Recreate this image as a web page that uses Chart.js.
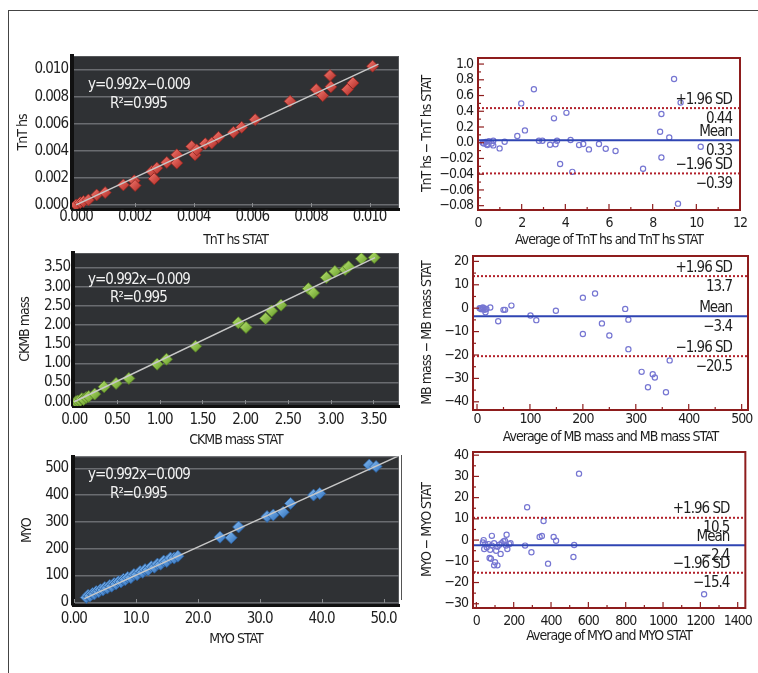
<!DOCTYPE html>
<html>
<head>
<meta charset="utf-8">
<script src="https://cdn.jsdelivr.net/npm/chart.js@4.4.1/dist/chart.umd.min.js"></script>
<style>
  body { margin: 0; background: #fff; width: 758px; height: 673px; position: relative; overflow: hidden; }
  canvas { position: absolute; }
  .rule { position: absolute; background: #444; }
</style>
</head>
<body>
<div class="rule" style="left:8px;top:10px;width:750px;height:1px"></div>
<div class="rule" style="left:8px;top:10px;width:1px;height:663px"></div>
<div class="rule" style="left:401px;top:455px;width:1px;height:145px;background:#555"></div>
<canvas id="tnt"></canvas>
<canvas id="tntBA"></canvas>
<canvas id="ckmb"></canvas>
<canvas id="mbBA"></canvas>
<canvas id="myo"></canvas>
<canvas id="myoBA"></canvas>
<script>
const FONT = "'Liberation Sans Narrow', 'DejaVu Sans Condensed', 'Arial Narrow', sans-serif";
const TIGHT = '-1px';

// --- TnT hs vs TnT hs STAT ---
const tntStat = [0, 0.00014, 0.00025, 0.00042, 0.0007, 0.00099, 0.00161, 0.00198, 0.00201, 0.00258, 0.00266, 0.00275, 0.00309, 0.00343, 0.00343, 0.00394, 0.00405, 0.00411, 0.0044, 0.00462, 0.00485, 0.00536, 0.00564, 0.0061, 0.00729, 0.00818, 0.0084, 0.00865, 0.00868, 0.00924, 0.00943, 0.0101];
const tntHs   = [0, 0.00017, 0.00025, 0.00037, 0.00074, 0.00091, 0.00148, 0.00178, 0.00143, 0.00247, 0.00193, 0.00272, 0.00314, 0.0037, 0.00309, 0.00432, 0.0037, 0.00407, 0.00452, 0.00457, 0.00499, 0.00536, 0.00573, 0.0063, 0.00765, 0.00852, 0.00807, 0.00956, 0.00872, 0.00852, 0.00901, 0.01025];
const tntFitX = [0, 0.0103];
const tntFitY = [0, 0.0104];
const tntTicks = [0, 0.002, 0.004, 0.006, 0.008, 0.010];
const tntTickLabels = ['0.000', '0.002', '0.004', '0.006', '0.008', '0.010'];

// --- CKMB mass vs CKMB mass STAT ---
const ckmbStat = [0.02, 0.04, 0.07, 0.09, 0.11, 0.14, 0.17, 0.24, 0.35, 0.49, 0.64, 0.97, 1.08, 1.42, 1.92, 2.01, 2.24, 2.31, 2.42, 2.74, 2.80, 2.95, 3.05, 3.17, 3.21, 3.36, 3.51];
const ckmbMass = [0.0, 0.02, 0.03, 0.08, 0.06, 0.11, 0.14, 0.20, 0.39, 0.48, 0.61, 0.98, 1.11, 1.45, 2.06, 1.94, 2.17, 2.37, 2.52, 2.95, 2.84, 3.24, 3.40, 3.45, 3.52, 3.73, 3.76];
const ckmbFitX = [0, 3.52];
const ckmbFitY = [0, 3.76];
const ckmbXTicks = [0, 0.5, 1, 1.5, 2, 2.5, 3, 3.5];
const ckmbYTicks = [0, 0.5, 1, 1.5, 2, 2.5, 3, 3.5];
const ckmbTickLabels = ['0.00', '0.50', '1.00', '1.50', '2.00', '2.50', '3.00', '3.50'];

// --- MYO vs MYO STAT ---
const myoStat = [2.0, 2.3, 2.6, 3.0, 3.3, 3.6, 4.0, 4.3, 4.7, 5.0, 5.4, 5.8, 6.1, 6.5, 6.8, 7.2, 7.6, 8.0, 8.3, 8.7, 9.2, 9.7, 10.2, 10.7, 11.1, 11.5, 12.0, 12.5, 13.0, 13.5, 14.0, 14.5, 15.0, 15.6, 16.2, 16.8, 23.6, 25.4, 26.6, 31.2, 32.2, 33.8, 35.0, 38.7, 39.7, 47.7, 48.8];
const myoVal  = [18, 26, 24, 33, 31, 40, 39, 47, 46, 55, 53, 63, 60, 70, 68, 77, 76, 86, 84, 93, 92, 104, 103, 115, 112, 122, 121, 133, 131, 143, 142, 154, 152, 165, 165, 172, 243, 241, 281, 320, 326, 336, 369, 400, 406, 512, 507];
const myoFitX = [1.7, 53];
const myoFitY = [14, 552];
const myoXTicks = [0, 10, 20, 30, 40, 50];
const myoXTickLabels = ['0.00', '10.0', '20.0', '30.0', '40.0', '50.0'];
const myoYTicks = [0, 100, 200, 300, 400, 500];
const myoYTickLabels = ['0', '100', '200', '300', '400', '500'];

// --- Bland-Altman: TnT ---
const tntAvg  = [0.22, 0.27, 0.35, 0.4, 0.43, 0.5, 0.63, 0.7, 0.7, 0.99, 1.22, 1.8, 1.98, 2.15, 2.56, 2.79, 2.95, 3.3, 3.48, 3.55, 3.62, 3.76, 4.05, 4.24, 4.32, 4.63, 4.82, 5.08, 5.54, 5.85, 6.3, 7.56, 8.34, 8.4, 8.4, 8.76, 8.98, 9.16, 9.28, 10.2];
const tntDiff = [0.0, -0.0009, 0.001, -0.002, -0.003, 0.002, -0.001, 0.0026, -0.0034, -0.0072, 0.0013, 0.0085, 0.05, 0.0157, 0.068, 0.0026, 0.0026, -0.0026, 0.031, -0.002, 0.0026, -0.027, 0.038, 0.0034, -0.037, -0.003, -0.0017, -0.0085, -0.0017, -0.0077, -0.0106, -0.033, 0.014, 0.0366, -0.0187, 0.0068, 0.081, -0.0774, 0.051, -0.0051];
const tntLimits = [0.044, 0.0033, -0.039];
const tntLimitText = ['0.44', '0.33', '\u22120.39'];
const tntAvgTicks = [0, 2, 4, 6, 8, 10, 12];
const tntDiffTicks = [-0.08, -0.06, -0.04, -0.02, 0, 0.02, 0.04, 0.06, 0.08, 0.10];
const tntDiffTickLabels = ['\u22120.08', '\u22120.06', '\u22120.04', '\u22120.02', '0.0', '0.2', '0.4', '0.6', '0.8', '1.0'];

// --- Bland-Altman: MB mass ---
const mbAvg  = [5, 7, 8, 10, 11, 12.6, 14.5, 16, 17.7, 25, 40, 50, 53, 65, 101, 112, 149, 200, 200, 223, 236, 250, 280, 286, 286, 311, 323, 332, 336, 357, 364];
const mbDiff = [0, 0, -0.4, -0.4, 0.3, 0, -0.7, -1.7, -0.3, 0.3, -5.6, -0.7, -0.7, 1.1, -3.1, -5.1, -1.1, 4.5, -11, 6.3, -6.5, -11.7, -0.3, -4.9, -17.5, -27.2, -33.8, -28.2, -29.6, -35.9, -22.3];
const mbLimits = [13.7, -3.4, -20.5];
const mbLimitText = ['13.7', '\u22123.4', '\u221220.5'];
const mbAvgTicks = [0, 100, 200, 300, 400, 500];
const mbDiffTicks = [-40, -30, -20, -10, 0, 10, 20];

// --- Bland-Altman: MYO ---
const myoAvg  = [550, 272, 360, 339, 351, 414, 427, 162, 83, 39, 35, 48, 42, 56, 65, 74, 83, 95, 106, 113, 123, 136, 145, 153, 159, 166, 176, 183, 130, 71, 78, 100, 95, 113, 261, 295, 384, 524, 520, 1220];
const myoDiff = [31.3, 15.5, 9.0, 1.5, 1.9, 1.5, -0.3, 2.5, 2.0, 0, -1.1, -1.9, -4.2, -3.4, -1.9, -4.6, -2.6, -1.5, -5.0, -3.1, -2.2, -1.5, -0.6, -0.3, -2.6, -4.2, -1.9, -1.5, -6.5, -8.4, -8.8, -10.4, -11.9, -11.9, -2.6, -5.7, -11.1, -2.3, -8.0, -25.5];
const myoLimits = [10.5, -2.4, -15.4];
const myoLimitText = ['10.5', '\u22122.4', '\u221215.4'];
const myoAvgTicks = [0, 200, 400, 600, 800, 1000, 1200, 1400];
const myoDiffTicks = [-30, -20, -10, 0, 10, 20, 30, 40];

const limitNames = ['+1.96 SD', 'Mean', '\u22121.96 SD'];

// the original figure uses a condensed face; squeeze the letters a bit
Chart.register({
  id: 'tightText',
  beforeLayout(chart) { chart.ctx.letterSpacing = TIGHT; },
  beforeDraw(chart) { chart.ctx.letterSpacing = TIGHT; }
});

function pts(xs, ys) {
  return xs.map((x, i) => ({ x: x, y: ys[i] }));
}
function minus(v) {
  return String(v).replace('-', '\u2212');
}
function place(id, box) {
  const cv = document.getElementById(id);
  cv.width = box.r - box.l;
  cv.height = box.b - box.t;
  cv.style.left = box.l + 'px';
  cv.style.top = box.t + 'px';
  return cv;
}
function font(size) {
  return { family: FONT, size: size, lineHeight: 1 };
}

// shaded diamond: light top-left, dark bottom-right
function shade(light, dark) {
  return c => {
    const ch = c.chart;
    if (!c.parsed || !ch.chartArea) return dark;
    const px = ch.scales.x.getPixelForValue(c.parsed.x);
    const py = ch.scales.y.getPixelForValue(c.parsed.y);
    const g = ch.ctx.createLinearGradient(px - 5, py - 5, px + 5, py + 5);
    g.addColorStop(0, light);
    g.addColorStop(1, dark);
    return g;
  };
}

// dark plot background, little tick marks, equation text
function darkPlot(eq) {
  return {
    id: 'darkPlot',
    beforeDraw(chart) {
      const a = chart.chartArea, ctx = chart.ctx;
      ctx.save();
      ctx.fillStyle = '#2f3134';
      ctx.fillRect(a.left, a.top, a.right - a.left, a.bottom - a.top);
      ctx.strokeStyle = '#55575a';
      ctx.lineWidth = 1;
      ctx.strokeRect(a.left + 0.5, a.top + 0.5, a.right - a.left - 1, a.bottom - a.top - 1);
      ctx.restore();
    },
    beforeDatasetsDraw(chart) {
      const a = chart.chartArea, ctx = chart.ctx, xs = chart.scales.x;
      ctx.save();
      ctx.strokeStyle = '#8a8c8f';
      ctx.lineWidth = 1;
      xs.ticks.forEach(t => {
        const px = Math.round(xs.getPixelForValue(t.value)) + 0.5;
        ctx.beginPath();
        ctx.moveTo(px, a.bottom - 2);
        ctx.lineTo(px, a.bottom - 6);
        ctx.stroke();
      });
      ctx.restore();
    },
    afterDraw(chart) {
      const a = chart.chartArea, ctx = chart.ctx;
      ctx.save();
      ctx.fillStyle = '#f2f2f2';
      ctx.font = '15px ' + FONT;
      ctx.textBaseline = 'middle';
      ctx.fillText('y=0.992x\u22120.009', a.left + eq.dx, a.top + eq.dy);
      ctx.fillText('R\u00b2=0.995', a.left + eq.dx2, a.top + eq.dy2);
      ctx.restore();
    }
  };
}

function scatterPanel(id, box, area, d) {
  const cv = place(id, box);
  return new Chart(cv, {
    type: 'scatter',
    data: {
      datasets: [
        { type: 'line', data: pts(d.fitX, d.fitY), borderColor: '#c8c8c8', borderWidth: 1.5, pointRadius: 0, fill: false },
        { data: pts(d.x, d.y), pointStyle: 'rectRot', pointRadius: 6, backgroundColor: shade(d.light, d.dark), borderColor: d.edge, borderWidth: 0.8 }
      ]
    },
    options: {
      responsive: false,
      animation: false,
      events: [],
      layout: { padding: { left: 0, top: area.t - box.t, right: box.r - area.r, bottom: 0 } },
      plugins: { legend: { display: false }, tooltip: { enabled: false } },
      scales: {
        x: {
          type: 'linear', bounds: 'data', min: d.xMin, max: d.xMax,
          afterBuildTicks: s => { s.ticks = d.xTicks.map(v => ({ value: v })); },
          afterFit: s => { s.height = box.b - area.b; },
          ticks: { callback: (v, i) => d.xLabels[i], padding: d.xPad, font: font(15), color: '#1e1e1e', maxRotation: 0, autoSkip: false },
          grid: { display: false, drawTicks: false },
          border: { color: '#111', width: 3 },
          title: { display: true, text: d.xTitle, font: font(14), color: '#1e1e1e', padding: 0 }
        },
        y: {
          type: 'linear', bounds: 'data', min: d.yMin, max: d.yMax,
          afterBuildTicks: s => { s.ticks = d.yTicks.map(v => ({ value: v })); },
          afterFit: s => { s.width = area.l - box.l; },
          ticks: { callback: (v, i) => d.yLabels[i], padding: d.yPad, font: font(15), color: '#1e1e1e', autoSkip: false },
          grid: { color: '#6a6c70', lineWidth: 1.5, drawTicks: false },
          border: { color: '#111', width: 4 },
          title: { display: true, text: d.yTitle, font: font(14), color: '#1e1e1e', padding: 0 }
        }
      }
    },
    plugins: [darkPlot(d.eq)]
  });
}

// red frame, inward ticks, limit captions
function baDeco(d) {
  return {
    id: 'baDeco',
    afterDatasetsDraw(chart) {
      const a = chart.chartArea, ctx = chart.ctx, xs = chart.scales.x, ys = chart.scales.y;
      ctx.save();
      ctx.strokeStyle = '#8e1d1d';
      ctx.lineWidth = 1.2;
      const yt = d.yTicks, xt = d.xTicks;
      yt.forEach((v, i) => {
        const py = ys.getPixelForValue(v);
        ctx.beginPath(); ctx.moveTo(a.left, py); ctx.lineTo(a.left + 6, py); ctx.stroke();
        if (i < yt.length - 1) {
          const pm = ys.getPixelForValue((v + yt[i + 1]) / 2);
          ctx.beginPath(); ctx.moveTo(a.left, pm); ctx.lineTo(a.left + 3, pm); ctx.stroke();
        }
      });
      xt.forEach((v, i) => {
        const px = xs.getPixelForValue(v);
        ctx.beginPath(); ctx.moveTo(px, a.bottom); ctx.lineTo(px, a.bottom - 6); ctx.stroke();
        if (i < xt.length - 1) {
          const pm = xs.getPixelForValue((v + xt[i + 1]) / 2);
          ctx.beginPath(); ctx.moveTo(pm, a.bottom); ctx.lineTo(pm, a.bottom - 3); ctx.stroke();
        }
      });
      ctx.lineWidth = 2;
      ctx.strokeRect(a.left, a.top, a.right - a.left, a.bottom - a.top);

      ctx.fillStyle = '#1e1e1e';
      ctx.font = '15px ' + FONT;
      ctx.textAlign = 'right';
      const rx = a.right - d.labelInset;
      d.limits.forEach((v, i) => {
        const py = ys.getPixelForValue(v);
        ctx.textBaseline = 'bottom';
        ctx.fillText(limitNames[i], rx, py - 1);
        ctx.textBaseline = 'top';
        ctx.fillText(d.limitText[i], rx, py + 3);
      });
      ctx.restore();
    }
  };
}

function baPanel(id, box, area, d) {
  const cv = place(id, box);
  const xMin = d.xMin, xMax = d.xMax;
  const lineX = [xMin, xMax];
  return new Chart(cv, {
    type: 'scatter',
    data: {
      datasets: [
        { type: 'line', data: pts(lineX, [d.limits[0], d.limits[0]]), borderColor: '#b2202a', borderWidth: 2, borderDash: [2, 2], pointRadius: 0 },
        { type: 'line', data: pts(lineX, [d.limits[1], d.limits[1]]), borderColor: '#2f45b3', borderWidth: 2, pointRadius: 0 },
        { type: 'line', data: pts(lineX, [d.limits[2], d.limits[2]]), borderColor: '#b2202a', borderWidth: 2, borderDash: [2, 2], pointRadius: 0 },
        { data: pts(d.x, d.y), pointStyle: 'circle', pointRadius: 2.6, backgroundColor: 'rgba(0,0,0,0)', borderColor: '#7676d2', borderWidth: 1.2 }
      ]
    },
    options: {
      responsive: false,
      animation: false,
      events: [],
      layout: { padding: { left: 0, top: area.t - box.t, right: box.r - area.r, bottom: 0 } },
      plugins: { legend: { display: false }, tooltip: { enabled: false } },
      scales: {
        x: {
          type: 'linear', bounds: 'data', min: xMin, max: xMax,
          afterBuildTicks: s => { s.ticks = d.xTicks.map(v => ({ value: v })); },
          afterFit: s => { s.height = box.b - area.b; },
          ticks: { callback: (v, i) => minus(d.xTicks[i]), padding: d.xPad, font: font(14), color: '#1e1e1e', maxRotation: 0, autoSkip: false },
          grid: { display: false, drawTicks: false },
          border: { display: false },
          title: { display: true, text: d.xTitle, font: font(14), color: '#1e1e1e', padding: 0 }
        },
        y: {
          type: 'linear', bounds: 'data', min: d.yMin, max: d.yMax,
          afterBuildTicks: s => { s.ticks = d.yTicks.map(v => ({ value: v })); },
          afterFit: s => { s.width = area.l - box.l; },
          ticks: { callback: (v, i) => (d.yLabels ? d.yLabels[i] : minus(d.yTicks[i])), padding: 5, font: font(14), color: '#1e1e1e', autoSkip: false },
          grid: { display: false, drawTicks: false },
          border: { display: false },
          title: { display: true, text: d.yTitle, font: font(14), color: '#1e1e1e', padding: 0 }
        }
      }
    },
    plugins: [baDeco(d)]
  });
}

// left column
scatterPanel('tnt', { l: 16, t: 40, r: 409, b: 247 }, { l: 72, t: 56, r: 399, b: 209 }, {
  x: tntStat, y: tntHs, fitX: tntFitX, fitY: tntFitY,
  xMin: -0.00014, xMax: 0.0110, yMin: -0.0003, yMax: 0.0110,
  xTicks: tntTicks, xLabels: tntTickLabels, yTicks: tntTicks, yLabels: tntTickLabels,
  xPad: 1, yPad: 4, xTitle: 'TnT hs STAT', yTitle: 'TnT hs',
  light: '#f0736a', dark: '#b3302a', edge: '#8e231e', eq: { dx: 16, dy: 29, dx2: 38, dy2: 48 }
});
scatterPanel('ckmb', { l: 18, t: 240, r: 409, b: 447 }, { l: 73, t: 253, r: 399, b: 406 }, {
  x: ckmbStat, y: ckmbMass, fitX: ckmbFitX, fitY: ckmbFitY,
  xMin: -0.014, xMax: 3.80, yMin: -0.11, yMax: 3.88,
  xTicks: ckmbXTicks, xLabels: ckmbTickLabels, yTicks: ckmbYTicks, yLabels: ckmbTickLabels,
  xPad: 7, yPad: 3, xTitle: 'CKMB mass STAT', yTitle: 'CKMB mass',
  light: '#b4e06e', dark: '#6a9f2c', edge: '#557f23', eq: { dx: 15, dy: 27, dx2: 37, dy2: 45 }
});
scatterPanel('myo', { l: 20, t: 444, r: 409, b: 646 }, { l: 73, t: 454, r: 399, b: 605 }, {
  x: myoStat, y: myoVal, fitX: myoFitX, fitY: myoFitY,
  xMin: -0.14, xMax: 52.5, yMin: -10, yMax: 544,
  xTicks: myoXTicks, xLabels: myoXTickLabels, yTicks: myoYTicks, yLabels: myoYTickLabels,
  xPad: 7, yPad: 5, xTitle: 'MYO STAT', yTitle: 'MYO',
  light: '#80b8f0', dark: '#3473bd', edge: '#285d9c', eq: { dx: 15, dy: 19, dx2: 37, dy2: 38 }
});

// right column
baPanel('tntBA', { l: 420, t: 46, r: 754, b: 247 }, { l: 478, t: 58, r: 740, b: 210 }, {
  x: tntAvg, y: tntDiff, limits: tntLimits, limitText: tntLimitText,
  xMin: 0, xMax: 12, yMin: -0.0855, yMax: 0.1077,
  xTicks: tntAvgTicks, yTicks: tntDiffTicks, yLabels: tntDiffTickLabels,
  xPad: 6, labelInset: 8,
  xTitle: 'Average of TnT hs and TnT hs STAT', yTitle: 'TnT hs \u2212 TnT hs STAT'
});
baPanel('mbBA', { l: 420, t: 244, r: 758, b: 444 }, { l: 473, t: 254, r: 748, b: 410 }, {
  x: mbAvg, y: mbDiff, limits: mbLimits, limitText: mbLimitText,
  xMin: -7.6, xMax: 512, yMin: -43.5, yMax: 22.3,
  xTicks: mbAvgTicks, yTicks: mbDiffTicks,
  xPad: 2, labelInset: 16,
  xTitle: 'Average of MB mass and MB mass STAT', yTitle: 'MB mass \u2212 MB mass STAT'
});
baPanel('myoBA', { l: 420, t: 440, r: 758, b: 643 }, { l: 473, t: 450, r: 748, b: 608 }, {
  x: myoAvg, y: myoDiff, limits: myoLimits, limitText: myoLimitText,
  xMin: -18, xMax: 1441, yMin: -32, yMax: 41.5,
  xTicks: myoAvgTicks, yTicks: myoDiffTicks,
  xPad: 6, labelInset: 16,
  xTitle: 'Average of MYO and MYO STAT', yTitle: 'MYO \u2212 MYO STAT'
});
</script>
</body>
</html>
